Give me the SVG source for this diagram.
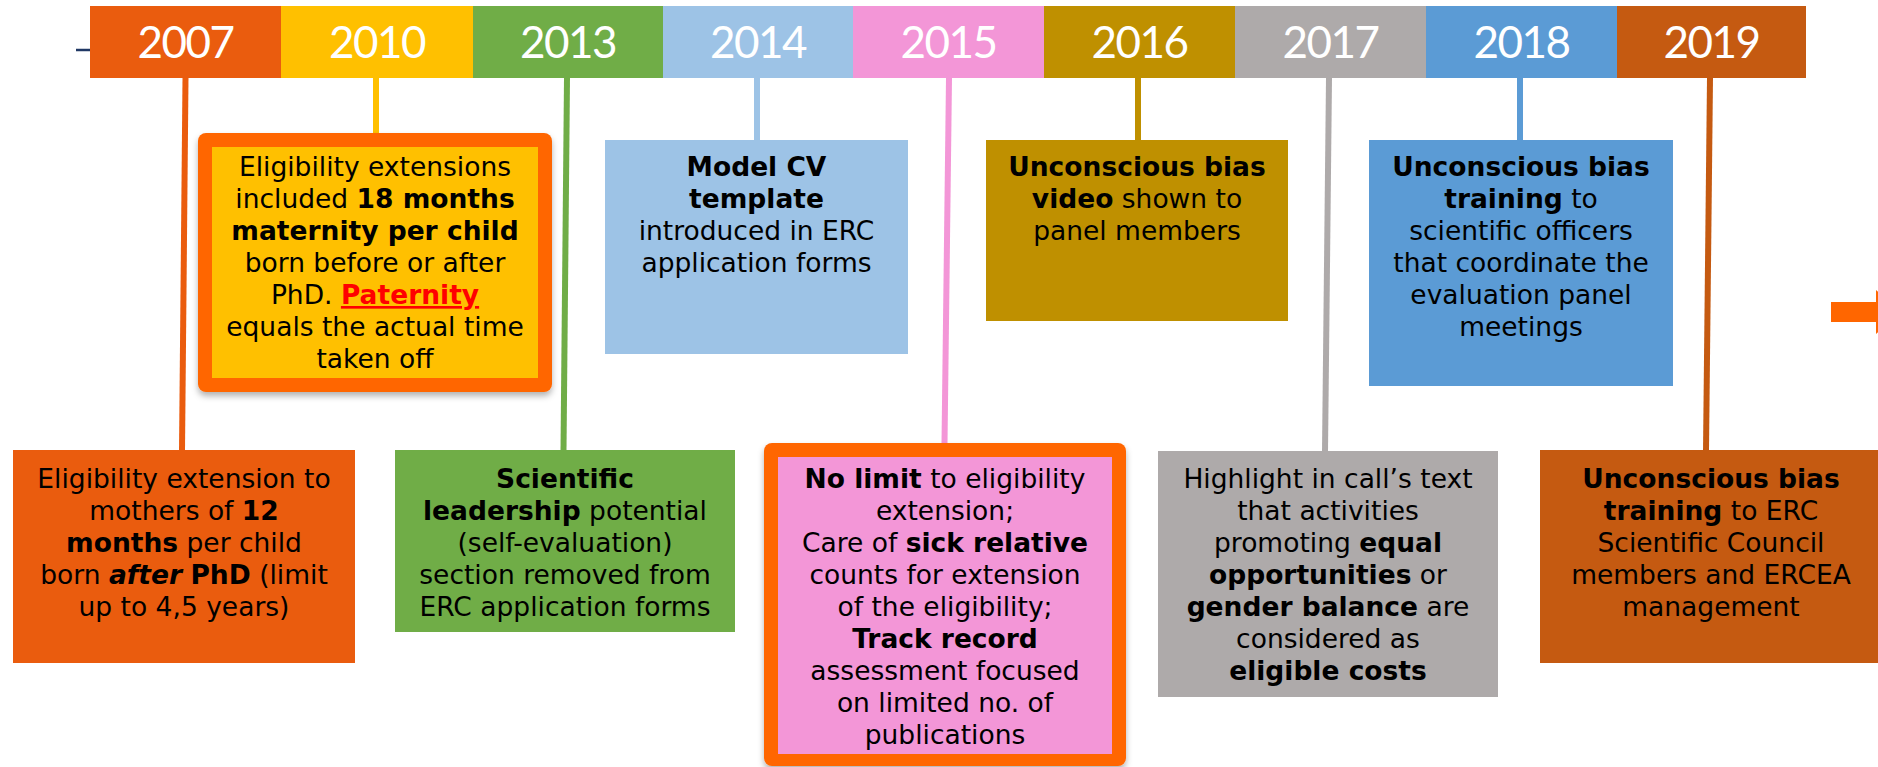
<svg xmlns="http://www.w3.org/2000/svg" width="1878" height="767" viewBox="0 0 1878 767">
<defs>
<filter id="sh" x="-10%" y="-10%" width="120%" height="125%">
<feDropShadow dx="0" dy="4" stdDeviation="3" flood-color="#000" flood-opacity="0.3"/>
</filter>
</defs>
<style>
.yr{font-family:Lato,"Liberation Sans",sans-serif;font-size:44px;fill:#fff;text-anchor:middle;letter-spacing:-1.5px}
.t{font-family:"DejaVu Sans",Verdana,sans-serif;font-size:26.5px;fill:#000;text-anchor:middle}
.b{font-weight:bold}
.conn line{stroke-width:6;fill:none}
.hl{fill:#FF6600}
</style>
<rect width="1878" height="767" fill="#fff"/>
<line x1="76" y1="50" x2="90" y2="50" stroke="#203864" stroke-width="2.5"/>

<g id="years">
<g id="y2007"><rect x="90" y="6" width="191" height="72" fill="#EA5C0E"/><text class="yr" x="185.5" y="58">2007</text></g>
<g id="y2010"><rect x="281" y="6" width="192" height="72" fill="#FFC000"/><text class="yr" x="377" y="58">2010</text></g>
<g id="y2013"><rect x="473" y="6" width="190" height="72" fill="#70AD47"/><text class="yr" x="568" y="58">2013</text></g>
<g id="y2014"><rect x="663" y="6" width="190" height="72" fill="#9DC3E6"/><text class="yr" x="758" y="58">2014</text></g>
<g id="y2015"><rect x="853" y="6" width="191" height="72" fill="#F396D7"/><text class="yr" x="948.5" y="58">2015</text></g>
<g id="y2016"><rect x="1044" y="6" width="191" height="72" fill="#BF9000"/><text class="yr" x="1139.5" y="58">2016</text></g>
<g id="y2017"><rect x="1235" y="6" width="191" height="72" fill="#AEAAAA"/><text class="yr" x="1330.5" y="58">2017</text></g>
<g id="y2018"><rect x="1426" y="6" width="191" height="72" fill="#5B9BD5"/><text class="yr" x="1521.5" y="58">2018</text></g>
<g id="y2019"><rect x="1617" y="6" width="189" height="72" fill="#C55A11"/><text class="yr" x="1711.5" y="58">2019</text></g>
</g>

<g id="connectors" class="conn">
<line x1="185.5" y1="78" x2="182" y2="451" stroke="#EA5C0E"/>
<line x1="376" y1="78" x2="376" y2="134" stroke="#FFC000"/>
<line x1="567" y1="78" x2="563.5" y2="451" stroke="#70AD47"/>
<line x1="757" y1="78" x2="757" y2="141" stroke="#9DC3E6"/>
<line x1="949" y1="78" x2="944.5" y2="444" stroke="#F396D7"/>
<line x1="1138" y1="78" x2="1138" y2="141" stroke="#BF9000"/>
<line x1="1329" y1="78" x2="1325" y2="452" stroke="#AEAAAA"/>
<line x1="1520" y1="78" x2="1520" y2="141" stroke="#5B9BD5"/>
<line x1="1710" y1="78" x2="1706" y2="451" stroke="#C55A11"/>
</g>

<g id="box2010">
<rect x="198" y="133" width="354" height="259" rx="8" class="hl" filter="url(#sh)"/>
<rect x="212" y="147" width="326" height="231" fill="#FFC000"/>
<text class="t" x="375" y="176">Eligibility extensions</text>
<text class="t" x="375" y="208">included <tspan class="b">18 months</tspan></text>
<text class="t" x="375" y="240"><tspan class="b">maternity per child</tspan></text>
<text class="t" x="375" y="272">born before or after</text>
<text class="t" x="375" y="304">PhD. <tspan class="b" fill="#FF0000" text-decoration="underline">Paternity</tspan></text>
<text class="t" x="375" y="336">equals the actual time</text>
<text class="t" x="375" y="368">taken off</text>
</g>

<g id="box2014">
<rect x="605" y="140" width="303" height="214" fill="#9DC3E6"/>
<text class="t" x="756.5" y="176"><tspan class="b">Model CV</tspan></text>
<text class="t" x="756.5" y="208"><tspan class="b">template</tspan></text>
<text class="t" x="756.5" y="240">introduced in ERC</text>
<text class="t" x="756.5" y="272">application forms</text>
</g>

<g id="box2016">
<rect x="986" y="140" width="302" height="181" fill="#BF9000"/>
<text class="t" x="1137" y="176"><tspan class="b">Unconscious bias</tspan></text>
<text class="t" x="1137" y="208"><tspan class="b">video</tspan> shown to</text>
<text class="t" x="1137" y="240">panel members</text>
</g>

<g id="box2018">
<rect x="1369" y="140" width="304" height="246" fill="#5B9BD5"/>
<text class="t" x="1521" y="176"><tspan class="b">Unconscious bias</tspan></text>
<text class="t" x="1521" y="208"><tspan class="b">training</tspan> to</text>
<text class="t" x="1521" y="240">scientific officers</text>
<text class="t" x="1521" y="272">that coordinate the</text>
<text class="t" x="1521" y="304">evaluation panel</text>
<text class="t" x="1521" y="336">meetings</text>
</g>

<g id="arrow">
<rect x="1831" y="302" width="47" height="20" class="hl"/>
<polygon points="1876,290 1900,312 1876,334" class="hl"/>
</g>

<g id="box2007">
<rect x="13" y="450" width="342" height="213" fill="#EA5C0E"/>
<text class="t" x="184" y="488">Eligibility extension to</text>
<text class="t" x="184" y="520">mothers of <tspan class="b">12</tspan></text>
<text class="t" x="184" y="552"><tspan class="b">months</tspan> per child</text>
<text class="t" x="184" y="584">born <tspan class="b" font-style="italic">after</tspan> <tspan class="b">PhD</tspan> (limit</text>
<text class="t" x="184" y="616">up to 4,5 years)</text>
</g>

<g id="box2013">
<rect x="395" y="450" width="340" height="182" fill="#70AD47"/>
<text class="t" x="565" y="488"><tspan class="b">Scientific</tspan></text>
<text class="t" x="565" y="520"><tspan class="b">leadership</tspan> potential</text>
<text class="t" x="565" y="552">(self-evaluation)</text>
<text class="t" x="565" y="584">section removed from</text>
<text class="t" x="565" y="616">ERC application forms</text>
</g>

<g id="box2015">
<rect x="764" y="443" width="362" height="323" rx="8" class="hl" filter="url(#sh)"/>
<rect x="778" y="457" width="334" height="297" fill="#F396D7"/>
<text class="t" x="945" y="488"><tspan class="b">No limit</tspan> to eligibility</text>
<text class="t" x="945" y="520">extension;</text>
<text class="t" x="945" y="552">Care of <tspan class="b">sick relative</tspan></text>
<text class="t" x="945" y="584">counts for extension</text>
<text class="t" x="945" y="616">of the eligibility;</text>
<text class="t" x="945" y="648"><tspan class="b">Track record</tspan></text>
<text class="t" x="945" y="680">assessment focused</text>
<text class="t" x="945" y="712">on limited no. of</text>
<text class="t" x="945" y="744">publications</text>
</g>

<g id="box2017">
<rect x="1158" y="451" width="340" height="246" fill="#AEAAAA"/>
<text class="t" x="1328" y="488">Highlight in call’s text</text>
<text class="t" x="1328" y="520">that activities</text>
<text class="t" x="1328" y="552">promoting <tspan class="b">equal</tspan></text>
<text class="t" x="1328" y="584"><tspan class="b">opportunities</tspan> or</text>
<text class="t" x="1328" y="616"><tspan class="b">gender balance</tspan> are</text>
<text class="t" x="1328" y="648">considered as</text>
<text class="t" x="1328" y="680"><tspan class="b">eligible costs</tspan></text>
</g>

<g id="box2019">
<rect x="1540" y="450" width="342" height="213" fill="#C55A11"/>
<text class="t" x="1711" y="488"><tspan class="b">Unconscious bias</tspan></text>
<text class="t" x="1711" y="520"><tspan class="b">training</tspan> to ERC</text>
<text class="t" x="1711" y="552">Scientific Council</text>
<text class="t" x="1711" y="584">members and ERCEA</text>
<text class="t" x="1711" y="616">management</text>
</g>
</svg>
